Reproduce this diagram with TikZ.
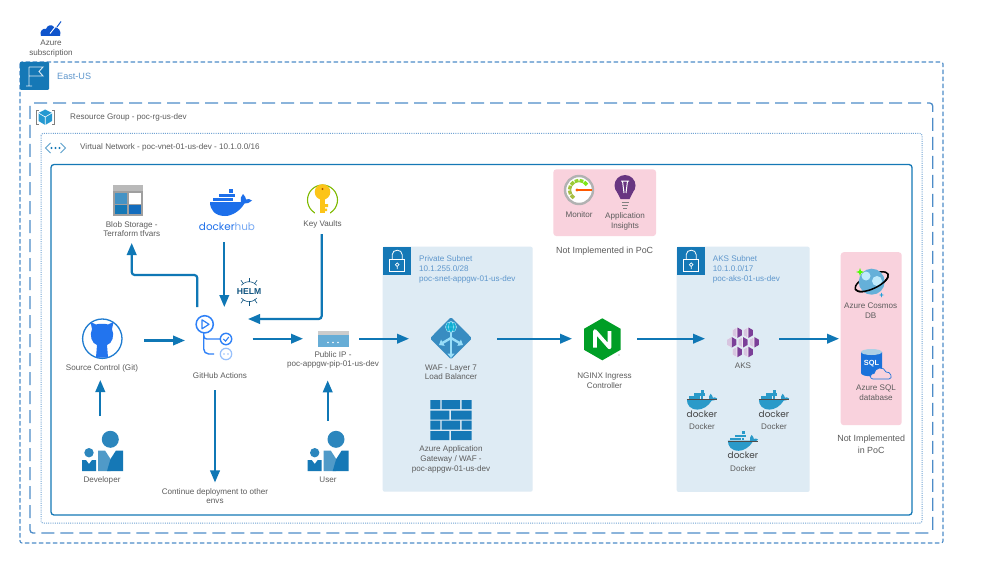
\documentclass[tikz,border=0pt]{standalone}
\usepackage{fontspec}
\setmainfont{Liberation Sans}
\newfontfamily\logofont{Poppins}
\usetikzlibrary{positioning,arrows.meta}
\definecolor{azblue}{HTML}{1578B6}
\definecolor{flowblue}{HTML}{0F77B5}
\definecolor{edgeblue}{HTML}{4D8CC8}
\definecolor{softblue}{HTML}{DEEBF4}
\definecolor{softpink}{HTML}{F9D2DD}
\definecolor{labelblue}{HTML}{5E96CC}
\definecolor{labelgray}{HTML}{5C5C5C}
\definecolor{gitblue}{HTML}{2F81F7}
\definecolor{hubblue}{HTML}{1D6FEA}
\definecolor{tealwhale}{HTML}{2A9AC9}
\definecolor{purplecell}{HTML}{7B3F98}
\definecolor{ringgreen}{HTML}{7FBA00}
\definecolor{keygold}{HTML}{FCC419}
\tikzset{
    every pic/.style={yscale=-1},
    flow/.style={draw=flowblue,line width=2.2pt,-{Triangle[length=12pt,width=9.5pt]},rounded corners=3pt},
    hold/.style={inner sep=0pt,outer sep=0pt,minimum width=#1},
    caption/.style={font=\fontsize{8.1}{9.7}\selectfont,text=labelgray,align=center,inner sep=0pt},
    notelabel/.style={font=\fontsize{8.9}{12}\selectfont,text=labelgray,align=center,inner sep=0pt},
    subnettext/.style={font=\fontsize{8.1}{10}\selectfont,text=labelblue,align=left,anchor=north west,inner sep=0pt},
    subnetbox/.style={fill=softblue,rounded corners=2pt,inner sep=0pt,outer sep=0pt},
    pinkbox/.style={fill=softpink,rounded corners=3pt,inner sep=0pt,outer sep=0pt},
    whale/.pic={
        \fill[#1] (-21,0) -- (10,0) .. controls (9,-3) and (10,-6) .. (12,-8) .. controls (14,-6) and (15,-4) .. (15,-2.5)
            .. controls (17,-3.5) and (19,-3) .. (21,-1.5) .. controls (19,1) and (16,1.5) .. (13.5,1.5)
            .. controls (9,9) and (1,14) .. (-6,14) .. controls (-16,14) and (-21,8) .. (-21,0) -- cycle;
        \foreach \bx in {-17.7,-13.7,-9.7,-5.7,-1.7} \fill[#1] (\bx,-4.2) rectangle ++(3.5,3.6);
        \foreach \bx in {-11.7,-7.7,-3.7,0.3} \fill[#1] (\bx,-8.4) rectangle ++(3.5,3.6);
        \fill[#1] (-1.7,-13) rectangle ++(3.9,4);
    },
    person/.pic={
        \fill[azblue!90!white] (8.3,-10.7) circle (8.5);
        \fill[azblue!75!white] (-4,0.5) -- (3,0.5) -- (8.5,9) -- (8.5,21) -- (-4,21) -- cycle;
        \fill[azblue] (14,0.5) -- (21,0.5) -- (21,21) -- (5,21) -- (8.5,9) -- cycle;
        \fill[azblue!90!white] (-13,2.7) circle (4.7);
        \fill[azblue] (-20,10) -- (-16,10) -- (-13,14) -- (-10,10) -- (-6,10) -- (-6,21) -- (-20,21) -- cycle;
    },
    lock/.pic={
        \fill[azblue] (0,0) rectangle (28.5,28.5);
        \draw[white,line width=0.8pt] (7,13) rectangle (22,25);
        \draw[white,line width=0.8pt] (9.5,13) -- (9.5,8) .. controls (9.5,2) and (19.5,2) .. (19.5,8) -- (19.5,13);
        \draw[white,line width=0.7pt] (14.5,18) circle (1.8) (14.5,19.8) -- (14.5,22.5);
    },
    cell/.pic={
        \fill[white] (0,-5.3) -- (4.6,-2.65) -- (4.6,2.65) -- (0,5.3) -- (-4.6,2.65) -- (-4.6,-2.65) -- cycle;
        \fill[#1] (0,-5.3) -- (4.6,-2.65) -- (4.6,2.65) -- (0,5.3) -- cycle;
        \fill[purplecell!30!white] (-0.6,-4.9) -- (-0.6,4.9) -- (-4.6,2.65) -- (-4.6,-2.65) -- cycle;
    },
    dockerset/.pic={
        \pic[scale=0.72] at (0,0) {whale=tealwhale};
        \draw[black!70,line width=0.5pt] (-15,0.2) -- (15,0.2);
        \node[font=\logofont\fontsize{8.9}{10}\selectfont,text=black!75,inner sep=0pt] at (0,14.5) {docker};
        \node[caption] at (0,27.5) {Docker};
    }
}
\begin{document}
\begin{tikzpicture}[x=1pt,y=1pt,yscale=-1,node distance=20pt,on grid]
    \useasboundingbox[fill=white] (0,0) rectangle (1000,564);

    % nested containers
    \draw[edgeblue,line width=1.1pt,dash pattern=on 4.5pt off 2.5pt,rounded corners=2pt] (20,62) rectangle (943,543);
    \draw[edgeblue,line width=1.3pt,dash pattern=on 13pt off 6pt,rounded corners=3pt] (30,103) rectangle (932.7,533);
    \draw[edgeblue!80!white,line width=1pt,dash pattern=on 1pt off 1.2pt,rounded corners=2pt] (41,133.5) rectangle (922,523);
    \draw[azblue,line width=1.3pt,rounded corners=3pt] (51,164.5) rectangle (912,515);

    % region headers
    \fill[azblue,rounded corners=1pt] (20,62) rectangle (49,90);
    \draw[white!85!azblue,line width=0.9pt] (29,86) -- (29,67) (26,86) -- (32,86) (29,67) -- (43,67) -- (39,71.5) -- (43,76) -- (29,76);
    \node[font=\fontsize{9.1}{10}\selectfont,text=labelblue,anchor=west,inner sep=0pt] (eastus) at (57,76) {East-US};
    \node[caption,anchor=west] (rgtext) at (70,117) {Resource Group - poc-rg-us-dev};
    \node[caption,anchor=west] (vnettext) at (80,147.5) {Virtual Network - poc-vnet-01-us-dev - 10.1.0.0/16};

    % resource group cube
    \draw[gray,line width=0.6pt] (38.5,110) -- (36,110) -- (36,124) -- (38.5,124) (52,110) -- (54.5,110) -- (54.5,124) -- (52,124);
    \fill[cyan!60!azblue] (45.2,109.5) -- (52,113) -- (52,121) -- (45.2,125) -- (38.5,121) -- (38.5,113) -- cycle;
    \draw[white,line width=0.6pt] (38.5,113) -- (45.2,117) -- (52,113) (45.2,117) -- (45.2,125);

    % vnet marks
    \draw[azblue!70!white,line width=0.9pt] (50.5,143) -- (45.5,148) -- (50.5,153) (60.5,143) -- (65.5,148) -- (60.5,153);
    \foreach \dx in {51.5,55.5,59.5} \fill[azblue] (\dx,148) circle (1.1);

    % azure subscription
    \fill[azblue!70!blue] (41,36) .. controls (39,31) and (43,28) .. (46,29) .. controls (47,25) and (52,24) .. (54,27)
        .. controls (58,27) and (62,31) .. (60,36) -- cycle;
    \draw[azblue!70!blue,line width=1pt] (57,27) -- (61,21.5);
    \draw[white,line width=0.9pt] (50,33.5) -- (56,26);
    \node[caption] (subscription) at (51,48.5) {Azure\\subscription};

    % subnets and not implemented boxes
    \node[subnetbox,minimum width=150pt,minimum height=245pt] (private) at (457.7,369.2) {};
    \node[subnetbox,minimum width=133pt,minimum height=245.3pt] (akssubnet) at (743.2,369.3) {};
    \pic at (382.7,246.7) {lock};
    \pic at (676.7,246.7) {lock};
    \node[subnettext] (privatetext) at (419,255.5) {Private Subnet\\10.1.255.0/28\\poc-snet-appgw-01-us-dev};
    \node[subnettext] (akstext) at (712.7,255.5) {AKS Subnet\\10.1.0.0/17\\poc-aks-01-us-dev};
    \node[pinkbox,minimum width=102.7pt,minimum height=66.7pt] (insight) at (604.7,202.7) {};
    \node[notelabel,below=48.3pt of insight] (insightnote) {Not Implemented in PoC};

    % anchors for the connectors, main row first
    \node[hold=56pt,minimum height=83.4pt] (pip) at (331,338.7) {};
    \node[hold=88pt,right=122pt of pip] (waf) {};
    \node[hold=65pt,right=151.5pt of waf] (nginx) {};
    \node[hold=74pt,right=137.5pt of nginx] (aks) {};
    \node[pinkbox,minimum width=61pt,minimum height=173pt,right=129.2pt of aks] (db) {};
    \node[notelabel,below=105.5pt of db] (dbnote) {Not Implemented\\in PoC};
    \node[hold=87.4pt,minimum height=79pt] (git) at (100.3,340.5) {};
    \node[hold=63pt,minimum height=83pt] (actions) at (216.5,348.5) {};
    \node[hold=30pt,minimum height=58pt] (blob) at (131.7,214) {};
    \node[hold=40pt,minimum height=54pt] (hub) at (224.3,215) {};
    \node[hold=30pt,minimum height=48pt] (vault) at (321.7,210) {};
    \node[hold=44pt,minimum height=55pt] (dev) at (100.3,443.5) {};
    \node[hold=44pt,minimum height=46pt] (user) at (327.7,443.7) {};
    \node[caption] (continue) at (215,496) {Continue deployment to other\\envs};
    \coordinate (blobturn) at (131.7,275);
    \coordinate (actionsup) at (197.3,307);

    % blob storage
    \fill[gray!75] (112.7,185) rectangle (143,216);
    \fill[gray!55] (112.7,185) rectangle (143,190.5);
    \fill[azblue!80!white] (115,192.5) rectangle (127,204);
    \fill[white] (128.5,192.5) rectangle (141,204);
    \fill[azblue] (115,205) rectangle (127,214);
    \fill[azblue!90!blue] (128.5,205) rectangle (141,214);
    \node[caption,below=15pt of blob] (blobtext) {Blob Storage -\\Terraform tfvars};

    % docker hub
    \pic at (231,202) {whale=hubblue};
    \node[font=\logofont\fontsize{10.4}{12}\selectfont,text=hubblue,inner sep=0pt] (hubtext) at (227,226.8) {docker{\color{hubblue!60!white}hub}};

    % key vault
    \draw[ringgreen,line width=1.1pt] (322.5,200) circle (15);
    \fill[white] (315,212) rectangle (330,216);
    \fill[keygold] (322.5,192) circle (7.8);
    \fill[keygold] (320,196) rectangle (325,213);
    \fill[keygold] (325,204) rectangle (328,207) (325,208.5) rectangle (327,211);
    \fill[orange!70!black] (322.5,189) circle (1.2);
    \node[caption] (vaulttext) at (322.5,224.5) {Key Vaults};

    % helm
    \node[font=\bfseries\fontsize{8.6}{9}\selectfont,text=azblue!70!black,inner sep=0pt] (helm) at (249,291.7) {HELM};
    \foreach \ang in {-125,-90,-55,55,90,125} {
        \draw[azblue!70!black,line width=0.6pt] (249,291.7) ++(\ang:9.5) -- ++(\ang:4.5);
    }
    \draw[azblue!70!black,line width=0.6pt] (249,291.7) ++(-140:10) arc (-140:-40:10) (249,291.7) ++(40:10) arc (40:140:10);

    % github actions
    \draw[gitblue,line width=1.5pt] (204.7,324.3) circle (8.6);
    \draw[gitblue,line width=1.2pt,line join=round] (202,319.8) -- (209,324.3) -- (202,328.8) -- cycle;
    \draw[gitblue,line width=1.4pt,rounded corners=5pt] (203.7,333) -- (203.7,354) -- (214,354);
    \draw[gitblue,line width=1.4pt,rounded corners=3pt] (203.7,335) -- (203.7,339) -- (220,339);
    \draw[gitblue,line width=1.4pt,fill=white] (226,339) circle (5.7);
    \draw[gitblue,line width=1.1pt] (223.3,339) -- (225.5,341.2) -- (228.8,337);
    \draw[gitblue!50!white,line width=1.2pt,fill=white] (226,354) circle (5.7);
    \fill[gitblue!50!white] (224,354) circle (0.9) (228,354) circle (0.9);
    \node[caption] (actionstext) at (220,376) {GitHub Actions};

    % source control
    \draw[gitblue!40!azblue,line width=1.3pt] (102.3,338.7) circle (19.7);
    \fill[gitblue!30!hubblue] (92,329) -- (90.5,322) -- (96,324.5) .. controls (99,323.5) and (105,323.5) .. (108,324.5) -- (113.5,322) -- (112,329)
        .. controls (115,335) and (112,344) .. (107,345) -- (108,357.5) -- (96,357.5) -- (97,345) .. controls (92,344) and (89,335) .. (92,329) -- cycle;
    \node[caption] (gittext) at (102,368) {Source Control (Git)};

    % people
    \pic at (102,450) {person};
    \node[caption] (devtext) at (102,480) {Developer};
    \pic at (327.7,450) {person};
    \node[caption] (usertext) at (328,480) {User};

    % public ip
    \fill[cyan!45!azblue!70!white] (317.7,331.3) rectangle (348.7,347);
    \fill[gray!40] (317.7,331.3) rectangle (348.7,334.5);
    \foreach \dx in {328,333,338} \fill[white] (\dx,342.5) circle (0.8);
    \node[caption,below=21.3pt of pip,xshift=2pt] (piptext) {Public IP -\\poc-appgw-pip-01-us-dev};

    % load balancer
    \fill[azblue!85!white,rounded corners=1.5pt] (451,317) -- (472,338.3) -- (451,359.5) -- (430,338.3) -- cycle;
    \draw[cyan!40!white,line width=2.4pt,-{Triangle[length=4.5pt,width=7pt]}] (451,333) -- (451,358);
    \draw[cyan!40!white,line width=2.4pt,-{Triangle[length=4.5pt,width=7pt]}] (451,338) -- (439,345);
    \draw[cyan!40!white,line width=2.4pt,-{Triangle[length=4.5pt,width=7pt]}] (451,338) -- (463,345);
    \fill[azblue!60!cyan] (451,327) circle (5.6);
    \draw[white!70!cyan,line width=0.4pt] (451,327) circle (5.6) (451,327) ellipse (2.5 and 5.6) (445.4,327) -- (456.6,327);
    \node[caption,below=33.5pt of waf,xshift=-2pt] (waftext) {WAF - Layer 7\\Load Balancer};

    % application gateway wall
    \foreach \ry in {400,420.5} {
        \fill[azblue] (430.3,\ry) rectangle ++(10,9.2) (441.7,\ry) rectangle ++(18.3,9.2) (461.7,\ry) rectangle ++(10,9.2);
        \fill[azblue] (430.3,\ry+10.5) rectangle ++(19,9.2) (451,\ry+10.5) rectangle ++(20.7,9.2);
    }
    \node[caption] (gatewaytext) at (451,459.3) {Azure Application\\Gateway / WAF -\\poc-appgw-01-us-dev};

    % nginx
    \fill[green!55!black!85!cyan] (602.3,318.3) -- (620.6,328.8) -- (620.6,349.8) -- (602.3,360.3) -- (584,349.8) -- (584,328.8) -- cycle;
    \draw[white,line width=3.6pt,line join=round] (595,347.5) -- (595,331) -- (609.5,347.5) -- (609.5,331);
    \fill[gray] (619,355) circle (0.6);
    \node[caption,below=42pt of nginx] (nginxtext) {NGINX Ingress\\Controller};

    % monitor
    \draw[gray!60,line width=2.4pt,fill=white] (579,190) circle (14);
    \foreach \ang/\shade in {-45/70,-75/55,-105/40,-135/30,-165/20,-195/15,-225/15} {
        \draw[green!\shade!gray!60!yellow,line width=3.4pt] (579,190) ++(\ang-12:9.5) arc (\ang-12:\ang+12:9.5);
    }
    \draw[orange!70!red,line width=1.5pt] (577,190) -- (592,190);
    \fill[orange!70!red] (577,190) circle (1.6);
    \node[caption] (monitortext) at (579,215) {Monitor};

    % application insights
    \fill[purplecell!85!black] (625,185.5) circle (10.5);
    \fill[purplecell!85!black] (617,192) -- (633,192) -- (629.5,199) -- (620.5,199) -- cycle;
    \draw[white,line width=1pt] (621,181) -- (629,181) (622.5,181) -- (624,193) (627.5,181) -- (626,193);
    \draw[gray,line width=1.2pt] (621.5,202.5) -- (628.5,202.5) (622,205.5) -- (628,205.5) (623,208.5) -- (627,208.5);
    \node[caption] (insighttext) at (625,221.7) {Application\\Insights};

    % aks cells
    \foreach \cx/\cy in {737.3/332.7,748.3/332.7,731.7/342.3,743/342.3,754.3/342.3,737.3/352,748.3/352} {
        \pic at (\cx,\cy) {cell=purplecell};
    }
    \node[caption] (akstxt) at (743,365.5) {AKS};

    % dockers inside aks subnet
    \pic at (702,399.5) {dockerset};
    \pic at (774,399.5) {dockerset};
    \pic at (743,440.7) {dockerset};

    % cosmos
    \draw[black,line width=1.5pt,rotate around={-25:(871.7,281.7)}] (871.7,281.7) ellipse (18 and 7);
    \fill[cyan!50!azblue!70!white] (871.7,281.7) circle (13);
    \fill[cyan!25!white] (866,276) circle (4.5) (877,281) circle (5);
    \draw[black,line width=1.5pt,rotate around={-25:(871.7,281.7)}] (889.7,281.7) arc (0:180:18 and 7);
    \fill[green!70!yellow] (860,268) -- (861,271) -- (864,272) -- (861,273) -- (860,276) -- (859,273) -- (856,272) -- (859,271) -- cycle;
    \fill[cyan!70!azblue] (881.5,292.5) -- (882.2,294.5) -- (884,295) -- (882.2,295.5) -- (881.5,297.5) -- (880.8,295.5) -- (879,295) -- (880.8,294.5) -- cycle;
    \node[caption] (cosmostext) at (870.7,310.5) {Azure Cosmos\\DB};

    % sql
    \fill[hubblue!70!azblue] (861,352) -- (861,373) .. controls (861,377.5) and (882,377.5) .. (882,373) -- (882,352) -- cycle;
    \fill[azblue!35!white] (871.5,352) ellipse (10.5 and 3);
    \node[font=\bfseries\fontsize{7.4}{8}\selectfont,text=white,inner sep=0pt] (sqltext) at (871.5,363.5) {SQL};
    \draw[hubblue!70!azblue,line width=0.7pt,fill=softpink] (873,379) .. controls (869,379) and (870,373) .. (874,373.5)
        .. controls (875,367) and (884,366) .. (886,372) .. controls (891,371) and (893,379) .. (889,379) -- cycle;
    \node[caption] (sqlcaption) at (876,392.5) {Azure SQL\\database};

    % connectors
    \draw[flow] (git.east) -- (git.east -| actions.west);
    \draw[flow,shorten <=4.7pt] (actions.east |- pip.west) -- (pip.west);
    \draw[flow] (pip.east) -- (waf.west);
    \draw[flow] (waf.east) -- (nginx.west);
    \draw[flow] (nginx.east) -- (aks.west);
    \draw[flow,shorten >=1.7pt] (aks.east) -- (db.west);
    \draw[flow] (dev.north) -- (dev.north |- git.south);
    \draw[flow] (user.north) -- (user.north |- pip.south);
    \draw[flow] (continue.north |- actions.south) -- ([yshift=-5.5pt]continue.north);
    \draw[flow] (hub.south) -- (hub.south |- actions.north);
    \draw[flow] (vault.south) |- (actions.east |- 0,319);
    \draw[flow] (actionsup) |- (blobturn) -- (blob.south);
\end{tikzpicture}
\end{document}
